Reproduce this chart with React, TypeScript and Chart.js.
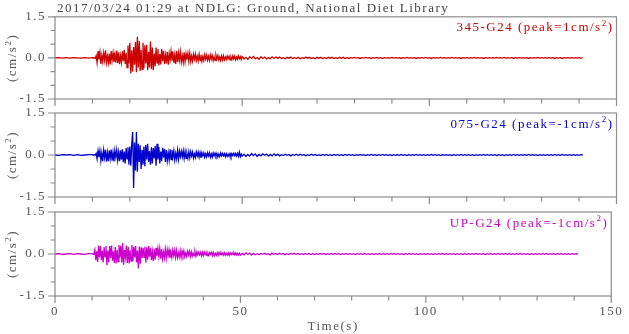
import { useEffect, useRef } from 'react';
import { Chart, registerables } from 'chart.js';

Chart.register(...registerables);

const TITLE = '2017/03/24 01:29 at NDLG: Ground, National Diet Library';
const X_LABEL = 'Time(s)';
const Y_LABEL: [string, boolean][] = [['(cm/s', false], ['2', true], [')', false]];

const PANEL_NAMES = ['345-G24 (peak=1cm/s', '075-G24 (peak=-1cm/s', 'UP-G24 (peak=-1cm/s'];
const PANEL_COLORS = ['#cc0000', '#0000cc', '#cc00cc'];

const X_MIN = 0;
const X_MAX = 150;
const X_LABEL_STEP = 50;
const X_MINOR_STEP = 10;
const Y_MIN = -1.5;
const Y_MAX = 1.5;
const Y_LABEL_STEP = 1.5;
const Y_MINOR_STEP = 0.5;

// sample layout of the traces (values in hundredths of cm/s^2)
const PRE_START = 0;   // 1 s steps
const PRE_STEP = 1;
const MAIN_START = 10; // 0.25 s steps
const MAIN_STEP = 0.25;
const TAIL_START = 50; // 0.5 s steps
const TAIL_STEP = 0.5;

const nsPre = [0, 1, -1, 1, -1, 1, 0, -1, 1, -1];
const nsMain = [
  1, -1, 1, -2,
  8, -18, 24, -6,
  20, -22, 10, -14,
  18, -8, 28, -16,
  6, -18, 16, -24,
  25, -10, 18, -15,
  12, -17, 27, -19,
  20, -23, 8, -16,
  24, -12, 30, -22,
  18, -35, 45, -20,
  55, -57, 28, -50,
  40, -25, 58, -52,
  77, -35, 62, -48,
  30, -42, 55, -38,
  46, -20, 48, -45,
  22, -35, 60, -40,
  38, -45, 16, -30,
  38, -18, 32, -28,
  14, -24, 32, -12,
  26, -22, 10, -20,
  22, -25, 16, -8,
  24, -10, 22, -18,
  12, -22, 25, -16,
  18, -8, 22, -15,
  9, -16, 20, -14,
  15, -6, 16, -12,
  18, -13, 7, -12,
  13, -5, 14, -10,
  6, -11, 13, -10,
  11, -12, 5, -9,
  12, -5, 10, -8,
  6, -9, 11, -4,
  9, -10, 4, -9,
  10, -4, 9, -7,
  4, -9, 7, -8,
  8, -7, 3, -6,
  7, -3, 6, -7,
  3, -6, 7, -4,
  6, -7, 3, -5,
  7, -3, 5, -6,
];
const nsTail = [
  5, -4, 2, -6, 4, -2, 5, -3, 1, -5,
  4, -2, 3, -4, 1, -3, 4, -2, 3, -1,
  3, -2, 1, -3, 2, -1, 3, -2, 1, -2,
  2, -3, 1, -2, 3, -1, 2, -2, 1, -3,
  2, -1, 2, -2, 1, -2, 2, -1, 2, -2,
  1, -2, 2, -1, 2, -2, 1, -2, 1, -1,
  2, -1, 1, -2, 1, -1, 2, -1, 1, -2,
  1, -1, 2, -1, 1, -2, 1, -1, 1, -1,
  2, -1, 1, -1, 1, -2, 1, -1, 2, -1,
  1, -1, 1, -2, 1, -1, 1, -1, 2, -1,
  1, -2, 1, -1, 1, -1, 2, -1, 1, -1,
  1, -1, 2, -1, 1, -1, 1, -2, 1, -1,
  1, -1, 1, -1, 2, -1, 1, -1, 1, -2,
  1, -1, 1, -1, 1, -1, 2, -1, 1, -1,
  2, -1, 1, -1, 1, -2, 1, -1, 1, -1,
  1, -1, 1, -2, 1, -1, 1, -1, 2, -1,
  1, -1, 1, -1, 1, -1, 1, -2, 1, -1,
  1, -2, 1, -1, 1, -1, 1, -1, 1, -1,
  1, -1, 0,
];

const ewPre = [0, -1, 1, 0, 1, -1, 1, -1, 0, 1];
const ewMain = [
  1, -1, 1, -1,
  6, -14, 15, -8,
  16, -20, 7, -22,
  18, -9, 19, -24,
  8, -22, 17, -12,
  19, -20, 9, -23,
  16, -8, 18, -19,
  10, -22, 17, -17,
  20, -26, 12, -30,
  25, -14, 28, -35,
  30, -38, 40, 82,
  -118, 45, -55, 82,
  -60, 40, -25, 35,
  -50, 18, -35, 30,
  -40, 36, -16, 40,
  -25, 14, -35, 28,
  -30, 25, -12, 32,
  -38, 40, -16, 28,
  -30, 12, -22, 26,
  -10, 22, -25, 18,
  -20, 8, -18, 20,
  -16, 18, -8, 15,
  -18, 6, -14, 17,
  -15, 14, -6, 13,
  -7, 15, -12, 13,
  -12, 5, -11, 12,
  -10, 12, -4, 10,
  -11, 4, -9, 11,
  -4, 10, -8, 9,
  -10, 8, -3, 8,
  -8, 4, -7, 8,
  -3, 8, -8, 4,
  -8, 7, -3, 7,
  -4, 6, -7, 3,
  -6, 7, -3, 6,
  -3, 5, -6, 5,
  -5, 3, -5, 5,
  -6, 5, -2, 6,
  -3, 5, -4, 6,
  -5, 10, -6, 3,
];
const ewTail = [
  -4, 3, -5, 2, -4, 5, -2, 4, -5, 2,
  -3, 4, -1, 3, -4, 2, -3, 4, -2, 3,
  -3, 1, -2, 3, -1, 2, -3, 2, -1, 3,
  -2, 3, -1, 2, -3, 1, -2, 3, -1, 2,
  -2, 1, -2, 2, -1, 2, -2, 1, -2, 2,
  -1, 2, -2, 1, -2, 2, -1, 2, -1, 1,
  -2, 1, -1, 2, -1, 1, -2, 1, -1, 2,
  -1, 1, -2, 1, -1, 2, -1, 1, -1, 1,
  -2, 1, -1, 1, -1, 2, -1, 1, -2, 1,
  -1, 1, -1, 2, -1, 1, -1, 1, -2, 1,
  -1, 2, -1, 1, -1, 1, -2, 1, -1, 1,
  -1, 1, -2, 1, -1, 1, -1, 2, -1, 1,
  -1, 1, -1, 1, -2, 1, -1, 1, -1, 2,
  -1, 1, -1, 1, -1, 1, -2, 1, -1, 1,
  -2, 1, -1, 1, -1, 2, -1, 1, -1, 1,
  -1, 1, -1, 2, -1, 1, -1, 1, -2, 1,
  -1, 1, -1, 1, -1, 1, -1, 2, -1, 1,
  -1, 2, -1, 1, -1, 1, -1, 1, -1, 1,
  -1, 1, 0,
];

const udPre = [0, 1, -1, 0, 1, -1, 1, 0, -1, 1];
const udMain = [
  1, -1, 2, 15,
  -22, 10, -28, 30,
  -12, 28, -22, 12,
  -30, 24, -10, 29,
  -40, 12, -30, 28,
  -14, 30, -24, 10,
  -32, 25, -34, 14,
  -27, 32, -12, 30,
  -30, 39, -38, 14,
  -12, 30, -32, 25,
  -34, 14, -25, 32,
  -27, 26, -12, 28,
  -30, 12, -52, 27,
  -35, 24, -14, 22,
  -12, 26, -30, 24,
  -20, 28, -10, 22,
  -22, 9, -25, 18,
  -20, 22, -8, 20,
  -9, 20, -17, 18,
  -16, 7, -15, 17,
  -15, 16, -6, 15,
  -14, 6, -13, 14,
  -5, 14, -12, 13,
  -12, 5, -11, 12,
  -12, 11, -4, 12,
  -10, 4, -9, 10,
  -4, 10, -9, 8,
  -8, 3, -7, 8,
  -7, 8, -3, 7,
  -3, 6, -7, 6,
  -6, 7, -2, 6,
  -6, 3, -5, 6,
  -2, 6, -6, 5,
  -6, 2, -5, 5,
  -5, 5, -2, 4,
  -2, 4, -4, 5,
  -4, 2, -4, 4,
  -5, 4, -2, 4,
  -2, 4, -3, 4,
  -4, 2, -4, 3,
];
const udTail = [
  -4, 2, -3, 4, -1, 3, -4, 2, -3, 1,
  -3, 2, -1, 3, -2, 1, -3, 3, -1, 2,
  -2, 3, -1, 2, -3, 1, -2, 2, -1, 3,
  -1, 2, -2, 1, -2, 2, -1, 2, -2, 1,
  -2, 1, -1, 2, -1, 2, -2, 1, -1, 2,
  -1, 2, -1, 1, -2, 1, -1, 2, -1, 1,
  -1, 1, -2, 1, -1, 1, -1, 2, -1, 1,
  -2, 1, -1, 1, -1, 2, -1, 1, -1, 1,
  -1, 1, -1, 2, -1, 1, -1, 1, -2, 1,
  -1, 2, -1, 1, -1, 1, -2, 1, -1, 1,
  -1, 1, -1, 1, -2, 1, -1, 1, -1, 2,
  -1, 1, -1, 1, -1, 1, -2, 1, -1, 1,
  -2, 1, -1, 1, -1, 1, -1, 2, -1, 1,
  -1, 1, -2, 1, -1, 1, -1, 1, -1, 2,
  -1, 1, -1, 2, -1, 1, -1, 1, -1, 1,
  -1, 2, -1, 1, -1, 1, -2, 1, -1, 1,
  -1, 1, -1, 1, -1, 2, -1, 1, -1, 1,
  -1, 1, -1, 1, -1, 1, -1, 1, -1, 1,
  -1, 1, 0,
];

const TRACES = [
  [nsPre, nsMain, nsTail],
  [ewPre, ewMain, ewTail],
  [udPre, udMain, udTail],
];

// layout (pixels)
const W = 629;
const H = 334;
const PLOT_LEFT = 55;
const PLOT_RIGHT = 616.5;
const PANEL_TOPS = [15, 113, 212];
const PANEL_H = 84;
const X_AXIS_H = 30;
const FONT_FAMILY = "'Liberation Serif', 'Times New Roman', serif";
const TEXT_GREY = '#555555';
const FRAME_GREY = '#8c8c8c';
const SPACING = '1.5px';

function buildPoints(pre: number[], main: number[], tail: number[]) {
  const pts: { x: number; y: number }[] = [];
  pre.forEach((v, i) => pts.push({ x: PRE_START + i * PRE_STEP, y: v / 100 }));
  main.forEach((v, i) => pts.push({ x: MAIN_START + i * MAIN_STEP, y: v / 100 }));
  tail.forEach((v, i) => pts.push({ x: TAIL_START + i * TAIL_STEP, y: v / 100 }));
  return pts;
}

function drawRich(ctx: CanvasRenderingContext2D, parts: [string, boolean][], x: number, y: number, align: 'left' | 'right' | 'center', size: number) {
  const mainFont = `${size}px ${FONT_FAMILY}`;
  const supFont = `${Math.round(size * 0.72)}px ${FONT_FAMILY}`;
  let total = 0;
  const widths = parts.map(([t, sup]) => {
    ctx.font = sup ? supFont : mainFont;
    const w = ctx.measureText(t).width;
    total += w;
    return w;
  });
  let cx = align === 'left' ? x : align === 'right' ? x - total : x - total / 2;
  ctx.textAlign = 'left';
  parts.forEach(([t, sup], i) => {
    ctx.font = sup ? supFont : mainFont;
    ctx.fillText(t, cx, sup ? y - size * 0.42 : y);
    cx += widths[i];
  });
}

const decorPlugin = {
  id: 'decor',
  beforeDraw(chart: any) {
    (chart.ctx as any).letterSpacing = SPACING;
  },
  afterDraw(chart: any, _args: any, opts: any) {
    const { ctx, chartArea: a, scales } = chart;
    const xs = scales.x;
    const ys = scales.y;
    ctx.save();
    (ctx as any).letterSpacing = SPACING;
    ctx.strokeStyle = FRAME_GREY;
    ctx.lineWidth = 1.2;
    ctx.strokeRect(a.left, a.top, a.right - a.left, a.bottom - a.top);
    ctx.beginPath();
    for (let v = X_MIN; v <= X_MAX + 1e-9; v += X_MINOR_STEP) {
      const px = xs.getPixelForValue(v);
      const len = Math.abs(v % X_LABEL_STEP) < 1e-9 ? 7 : 4.5;
      ctx.moveTo(px, a.bottom);
      ctx.lineTo(px, a.bottom + len);
    }
    for (let v = Y_MIN; v <= Y_MAX + 1e-9; v += Y_MINOR_STEP) {
      const py = ys.getPixelForValue(v);
      const major = Math.abs(Math.round(v / Y_LABEL_STEP) * Y_LABEL_STEP - v) < 1e-9;
      ctx.moveTo(a.left, py);
      ctx.lineTo(a.left - (major ? 7 : 4.5), py);
    }
    ctx.stroke();

    ctx.fillStyle = opts.color;
    ctx.textBaseline = 'alphabetic';
    drawRich(ctx, [[opts.name, false], ['2', true], [')', false]], a.right - 3, a.top + 14.5, 'right', 13);

    ctx.fillStyle = TEXT_GREY;
    ctx.save();
    ctx.translate(16, (a.top + a.bottom) / 2);
    ctx.rotate(-Math.PI / 2);
    drawRich(ctx, Y_LABEL, 0, 0, 'center', 13);
    ctx.restore();

    if (opts.title) {
      ctx.fillStyle = '#444444';
      drawRich(ctx, [[TITLE, false]], 57, 12, 'left', 13);
    }
    if (opts.xTitle) {
      ctx.fillStyle = TEXT_GREY;
      drawRich(ctx, [[X_LABEL, false]], (a.left + a.right) / 2, a.bottom + 34, 'center', 13);
    }
    ctx.restore();
  },
};

function Panel({ index }: { index: number }) {
  const ref = useRef<HTMLCanvasElement>(null);
  useEffect(() => {
    const canvas = ref.current;
    if (!canvas) return;
    const [pre, main, tail] = TRACES[index];
    const showX = index === 2;
    const top = PANEL_TOPS[index];
    const bottom = top + PANEL_H;
    const xh = showX ? X_AXIS_H : 0;
    const font = { family: FONT_FAMILY, size: 13 };
    const chart = new Chart(canvas, {
      type: 'line',
      data: {
        datasets: [
          {
            data: buildPoints(pre, main, tail),
            borderColor: PANEL_COLORS[index],
            borderWidth: 1.3,
            pointRadius: 0,
            tension: 0,
            fill: false,
          },
        ],
      },
      options: {
        responsive: false,
        animation: false,
        events: [],
        layout: { padding: { left: 0, right: W - PLOT_RIGHT, top, bottom: H - bottom - xh } },
        plugins: {
          legend: { display: false },
          tooltip: { enabled: false },
          decor: { color: PANEL_COLORS[index], name: PANEL_NAMES[index], title: index === 0, xTitle: showX },
        } as any,
        scales: {
          x: {
            type: 'linear',
            min: X_MIN,
            max: X_MAX,
            grid: { display: false, drawTicks: false },
            border: { display: false },
            ticks: { display: showX, stepSize: X_LABEL_STEP, padding: 8, color: TEXT_GREY, font, maxRotation: 0 },
            afterFit: (s: any) => {
              s.height = xh;
            },
          },
          y: {
            type: 'linear',
            min: Y_MIN,
            max: Y_MAX,
            grid: { display: false, drawTicks: false },
            border: { display: false },
            ticks: {
              stepSize: Y_LABEL_STEP,
              padding: 9,
              color: TEXT_GREY,
              font,
              callback: (v: any) => Number(v).toFixed(1),
            },
            afterFit: (s: any) => {
              s.width = PLOT_LEFT;
            },
          },
        },
      },
      plugins: [decorPlugin],
    } as any);
    return () => chart.destroy();
  }, [index]);
  return (
    <canvas
      ref={ref}
      width={W}
      height={H}
      style={{ position: 'absolute', left: 0, top: 0, width: W, height: H }}
    />
  );
}

export default function App() {
  return (
    <div style={{ position: 'fixed', left: 0, top: 0, width: W, height: H, background: '#ffffff' }}>
      <Panel index={0} />
      <Panel index={1} />
      <Panel index={2} />
    </div>
  );
}
